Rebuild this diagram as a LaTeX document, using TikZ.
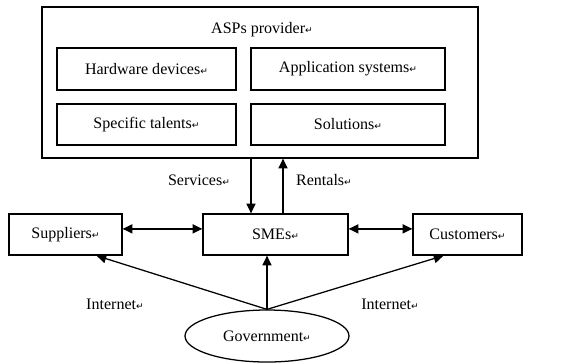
\documentclass[tikz,border=0pt]{standalone}
\usepackage{fontspec}
\setmainfont{Liberation Serif}
\newfontfamily\markfont{DejaVu Sans}
\newcommand\crmark{{\markfont\fontsize{6.5}{7}\selectfont ↵}}
\usetikzlibrary{arrows.meta,shapes.geometric}

\begin{document}
\begin{tikzpicture}[x=0.025cm, y=-0.025cm,
    font=\fontsize{11.4}{13}\selectfont,
    box/.style={draw, line width=0.9pt, inner sep=0pt},
    link/.style={line width=0.9pt, -{Triangle[length=7pt,width=6.5pt]}},
    both/.style={line width=0.9pt, {Triangle[length=7pt,width=6.5pt]}-{Triangle[length=7pt,width=6.5pt]}}]
\useasboundingbox (0,0) rectangle (584,363);

\node[box, minimum width=436*0.025cm, minimum height=151*0.025cm] (asp) at (260,82.5) {};
\node (title) at (262,30) {ASPs provider\crmark};
\node[box, minimum width=179*0.025cm, minimum height=42*0.025cm] (hw) at (146.5,69) {Hardware devices\crmark};
\node[box, minimum width=194*0.025cm, minimum height=42*0.025cm] (app) at (348,69) {Application systems\crmark};
\node[box, minimum width=179*0.025cm, minimum height=41*0.025cm] (talent) at (146.5,124.5) {Specific talents\crmark};
\node[box, minimum width=194*0.025cm, minimum height=41*0.025cm] (sol) at (348,124.5) {Solutions\crmark};

\node[box, minimum width=145*0.025cm, minimum height=41*0.025cm] (smes) at (275.5,234.5) {SMEs\crmark};
\node[box, minimum width=113*0.025cm, minimum height=41*0.025cm] (sup) at (65.5,234.5) {Suppliers\crmark};
\node[box, minimum width=109*0.025cm, minimum height=41*0.025cm] (cus) at (467.5,234.5) {Customers\crmark};
\node[draw, ellipse, line width=0.9pt, minimum width=164*0.025cm, minimum height=52*0.025cm] (gov) at (267,336) {Government\crmark};

\coordinate (svc) at (251,0);
\coordinate (rnt) at (283,0);
\draw[link] (asp.south -| svc) -- (smes.north -| svc);
\draw[link] (smes.north -| rnt) -- (asp.south -| rnt);
\node (services) at (199,180) {Services\crmark};
\node (rentals) at (324,180) {Rentals\crmark};

\draw[both] ([yshift=4pt]sup.east) -- ([yshift=4pt]smes.west);
\draw[both] ([yshift=4pt]smes.east) -- ([yshift=4pt]cus.west);

\draw[link] (gov.north) -- ([xshift=22pt]sup.south);
\draw[link] (gov.north) -- (smes.south -| gov.north);
\draw[link] (gov.north) -- ([xshift=-17pt]cus.south);
\node (netl) at (115,304) {Internet\crmark};
\node (netr) at (390,304) {Internet\crmark};
\end{tikzpicture}
\end{document}
